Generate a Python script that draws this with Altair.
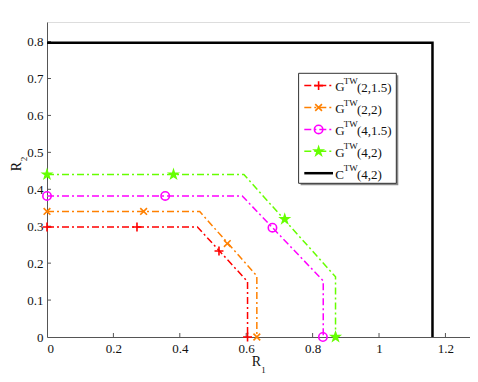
import altair as alt
import pandas as pd

# ---------------- data ----------------
series = ["G(2,1.5)", "G(2,2)", "G(4,1.5)", "G(4,2)", "C(4,2)"]
colors = ["#FF0000", "#FF8000", "#FF00FF", "#66FF00", "#000000"]

# region boundaries (line paths)
g215_x = [0.0, 0.453, 0.604, 0.604]
g215_y = [0.298, 0.298, 0.150, 0.0]
g22_x = [0.0, 0.460, 0.632, 0.632]
g22_y = [0.340, 0.340, 0.165, 0.0]
g415_x = [0.0, 0.588, 0.832, 0.832]
g415_y = [0.382, 0.382, 0.152, 0.0]
g42_x = [0.0, 0.593, 0.869, 0.869]
g42_y = [0.440, 0.440, 0.163, 0.0]
c42_x = [0.0, 1.161, 1.161]
c42_y = [0.797, 0.797, 0.0]

# marker positions
m215_x = [0.0, 0.271, 0.518, 0.604]
m215_y = [0.298, 0.298, 0.233, 0.0]
m22_x = [0.0, 0.291, 0.543, 0.632]
m22_y = [0.340, 0.340, 0.253, 0.0]
m415_x = [0.0, 0.356, 0.679, 0.831]
m415_y = [0.382, 0.382, 0.296, 0.0]
m42_x = [0.0, 0.381, 0.716, 0.869]
m42_y = [0.440, 0.440, 0.319, 0.0]

x_ticks = [0, 0.2, 0.4, 0.6, 0.8, 1.0, 1.2]
y_ticks = [0, 0.1, 0.2, 0.3, 0.4, 0.5, 0.6, 0.7, 0.8]

leg_letter = ["G", "G", "G", "G", "C"]
leg_sup = ["TW", "TW", "TW", "TW", "TW"]
leg_rest = ["(2,1.5)", "(2,2)", "(4,1.5)", "(4,2)", "(4,2)"]

paths = [(g215_x, g215_y), (g22_x, g22_y), (g415_x, g415_y), (g42_x, g42_y), (c42_x, c42_y)]
markers = [(m215_x, m215_y), (m22_x, m22_y), (m415_x, m415_y), (m42_x, m42_y), None]

# ---------------- styles ----------------
FONT = "Liberation Serif"
W, H = 423, 315
PLUS = "M-1,0L1,0M0,-1L0,1"
XSHAPE = "M-1,-1L1,1M-1,1L1,-1"
STAR = ("M0,-1L0.2245,-0.309L0.951,-0.309L0.363,0.118L0.588,0.809L0,0.382"
        "L-0.588,0.809L-0.363,0.118L-0.951,-0.309L-0.2245,-0.309Z")
shapes = [PLUS, XSHAPE, "circle", STAR, None]
msizes = [80, 45, 70, 190, None]
mfilled = [False, False, False, True, None]
DASH = [7, 3, 2, 3]

xscale = alt.Scale(domain=[0, 1.274], nice=False, zero=False)
yscale = alt.Scale(domain=[0, 0.853], nice=False, zero=False)

def X(field="x"):
    return alt.X(f"{field}:Q", scale=xscale,
                 axis=alt.Axis(values=x_ticks, format="~g", title=None, grid=False,
                               tickSize=0, domainColor="#555", labelFont=FONT,
                               labelFontSize=13, labelColor="#111", labelPadding=5))

def Y(field="y"):
    return alt.Y(f"{field}:Q", scale=yscale,
                 axis=alt.Axis(values=y_ticks, format="~g", title=None, grid=False,
                               tickSize=0, domainColor="#555", labelFont=FONT,
                               labelFontSize=13, labelColor="#111", labelPadding=4))

layers = []

# inward ticks
xt = pd.DataFrame({"x": x_ticks[1:]})
layers.append(alt.Chart(xt).mark_rule(color="#555", strokeWidth=1).encode(
    x=X(), y=alt.value(H), y2=alt.value(H - 4)))
yt = pd.DataFrame({"y": y_ticks[1:]})
layers.append(alt.Chart(yt).mark_rule(color="#555", strokeWidth=1).encode(
    y=Y(), x=alt.value(0), x2=alt.value(4)))

# curves
for i, (px, py) in enumerate(paths):
    df = pd.DataFrame({"x": px, "y": py, "o": list(range(len(px)))})
    if series[i].startswith("C"):
        mk = alt.Chart(df).mark_line(color=colors[i], strokeWidth=2.5)
    else:
        mk = alt.Chart(df).mark_line(color=colors[i], strokeWidth=1.5, strokeDash=DASH)
    layers.append(mk.encode(x=X(), y=Y(), order="o:Q"))

# markers
for i, m in enumerate(markers):
    if m is None:
        continue
    df = pd.DataFrame({"x": m[0], "y": m[1]})
    layers.append(alt.Chart(df).mark_point(
        shape=shapes[i], size=msizes[i], filled=mfilled[i], color=colors[i],
        strokeWidth=1.6, opacity=1).encode(x=X(), y=Y()))

# ---------------- legend ----------------
one = pd.DataFrame({"a": [0]})
bx0, bx1, by0, by1 = 251.6, 349.3, 51.3, 161.3
layers.append(alt.Chart(one).mark_rect(fill="#8a8a8a").encode(
    x=alt.value(bx0 + 2), x2=alt.value(bx1 + 2), y=alt.value(by0 + 2), y2=alt.value(by1 + 2)))
layers.append(alt.Chart(one).mark_rect(fill="white", stroke="#333", strokeWidth=1).encode(
    x=alt.value(bx0), x2=alt.value(bx1), y=alt.value(by0), y2=alt.value(by1)))

row0, gap = 63.6, 21.9
for i in range(len(series)):
    ry = row0 + gap * i
    if series[i].startswith("C"):
        ln = alt.Chart(one).mark_rule(color=colors[i], strokeWidth=2.5)
    else:
        ln = alt.Chart(one).mark_rule(color=colors[i], strokeWidth=1.5, strokeDash=DASH)
    layers.append(ln.encode(x=alt.value(257.3), x2=alt.value(286), y=alt.value(ry)))
    if shapes[i] is not None:
        layers.append(alt.Chart(one).mark_point(
            shape=shapes[i], size=msizes[i], filled=mfilled[i], color=colors[i],
            strokeWidth=1.6, opacity=1).encode(x=alt.value(271.6), y=alt.value(ry)))
    layers.append(alt.Chart(one).mark_text(
        font=FONT, fontSize=13, align="left", baseline="middle", color="#111").encode(
        x=alt.value(288.3), y=alt.value(ry + 1.5), text=alt.value(leg_letter[i])))
    layers.append(alt.Chart(one).mark_text(
        font=FONT, fontSize=9, align="left", baseline="middle", color="#111").encode(
        x=alt.value(296.8), y=alt.value(ry - 5), text=alt.value(leg_sup[i])))
    layers.append(alt.Chart(one).mark_text(
        font=FONT, fontSize=13, align="left", baseline="middle", color="#111").encode(
        x=alt.value(310.0), y=alt.value(ry + 2), text=alt.value(leg_rest[i])))

# axis titles (R with subscripts)
layers.append(alt.Chart(one).mark_text(font=FONT, fontSize=14, color="#111",
                                       align="center", baseline="middle").encode(
    x=alt.value(209.3), y=alt.value(340), text=alt.value("R")))
layers.append(alt.Chart(one).mark_text(font=FONT, fontSize=9, color="#111",
                                       align="center", baseline="middle").encode(
    x=alt.value(216.5), y=alt.value(347.5), text=alt.value("1")))
layers.append(alt.Chart(one).mark_text(font=FONT, fontSize=14, color="#111", angle=270,
                                       align="center", baseline="middle").encode(
    x=alt.value(-30.5), y=alt.value(144.5), text=alt.value("R")))
layers.append(alt.Chart(one).mark_text(font=FONT, fontSize=9, color="#111", angle=270,
                                       align="center", baseline="middle").encode(
    x=alt.value(-23.5), y=alt.value(137.0), text=alt.value("2")))

chart = alt.layer(*layers).properties(
    width=W, height=H,
    autosize=alt.AutoSizeParams(type="none"),
    padding={"left": 39, "top": 14, "right": 0, "bottom": 37},
).configure_view(stroke=None).configure(background="white")

chart.save("out.html", embed_options={"renderer": "svg", "actions": False})
